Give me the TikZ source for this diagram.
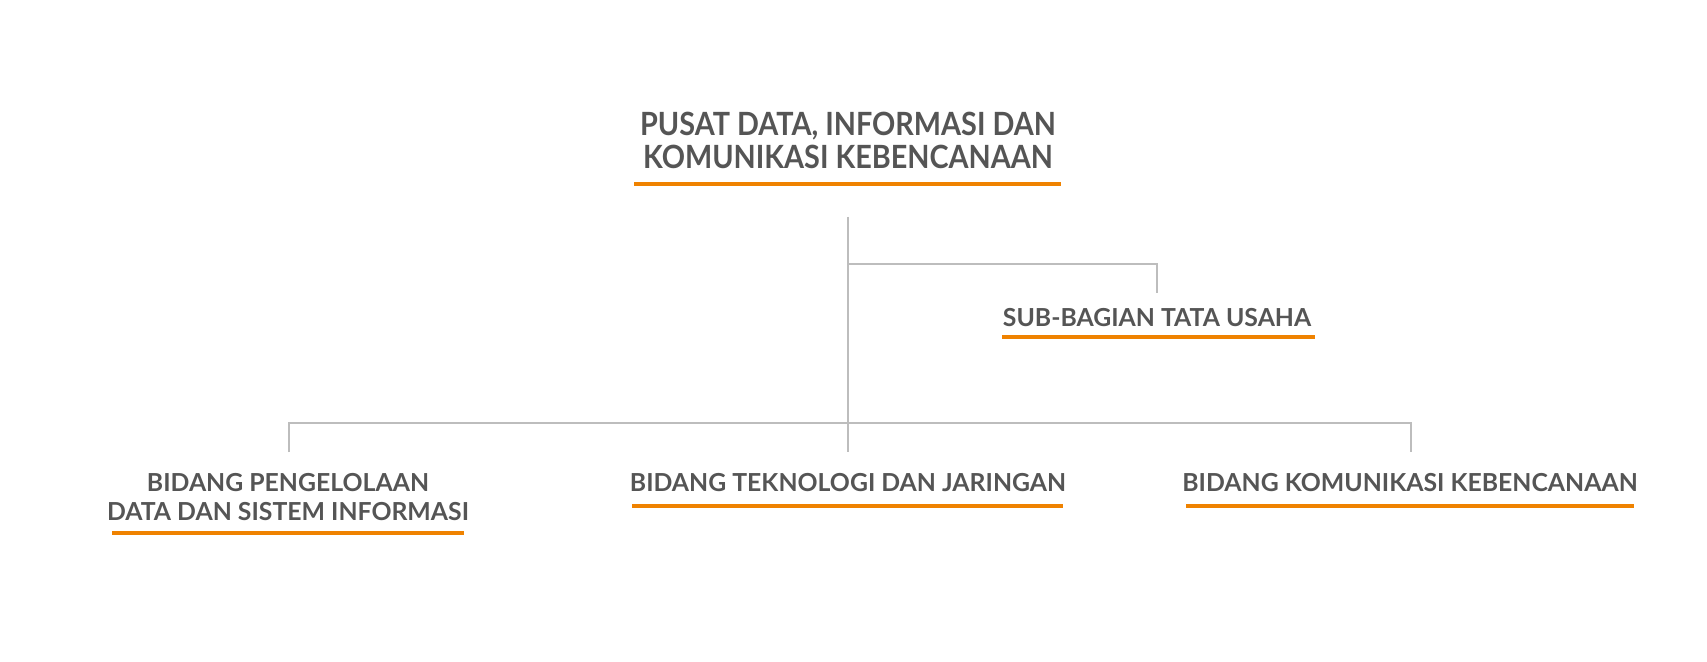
\documentclass[tikz,border=0pt]{standalone}
\usepackage{fontspec}
\setmainfont{Lato}[BoldFont={* Bold}]
\newfontfamily\headfont{Lato Bold}[FakeStretch=0.9]
\definecolor{txtgray}{HTML}{555555}
\definecolor{linegray}{HTML}{BDBDBD}
\definecolor{barorange}{HTML}{EF8200}
\begin{document}
\begin{tikzpicture}[x=0.5pt,y=-0.5pt,
  unit/.style={inner sep=0pt, text=txtgray, font=\bfseries\fontsize{12.4}{14.5}\selectfont, align=center},
  headunit/.style={unit, font=\headfont\fontsize{16}{16.5}\selectfont},
  bar/.style={barorange, line width=2pt},
  conn/.style={linegray, line width=1pt}]
\useasboundingbox[fill=white] (0,0) rectangle (1707,662);
% units
\node[headunit] (head) at (848,140) {PUSAT DATA, INFORMASI DAN\\KOMUNIKASI KEBENCANAAN};
\node[unit, anchor=base] (sub) at (1157,327) {SUB-BAGIAN TATA USAHA};
\node[unit] (left) at (288,497.5) {BIDANG PENGELOLAAN\\DATA DAN SISTEM INFORMASI};
\node[unit, anchor=base] (mid) at (848,491) {BIDANG TEKNOLOGI DAN JARINGAN};
\node[unit, anchor=base] (right) at (1410,491) {BIDANG KOMUNIKASI KEBENCANAAN};
% underlines
\draw[bar] (634,184) -- (1061,184);
\draw[bar] (1002,337) -- (1315,337);
\draw[bar] (112,533) -- (464,533);
\draw[bar] (632,506) -- (1063,506);
\draw[bar] (1186,506) -- (1634,506);
% connector points
\coordinate (headc) at (848,217);
\coordinate (subj) at (848,264);
\coordinate (subc) at (1157,293);
\coordinate (busj) at (848,423);
\coordinate (leftc) at (289,452);
\coordinate (midc) at (848,452);
\coordinate (rightc) at (1411,452);
% connectors
\draw[conn] (headc) -- (midc);
\draw[conn] (subj) -| (subc);
\draw[conn] (leftc) |- (busj) -| (rightc);
\end{tikzpicture}
\end{document}
